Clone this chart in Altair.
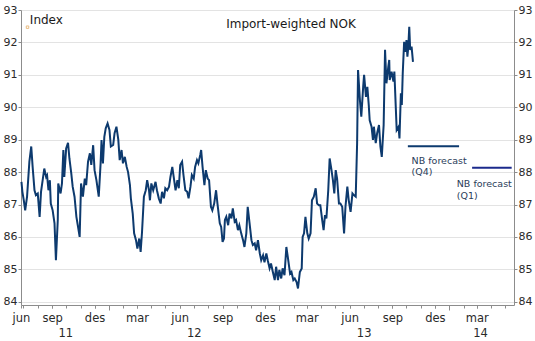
import altair as alt
import pandas as pd

FONT = "DejaVu Sans"
LINE_COLOR = "#0d3a6e"
Q1_COLOR = "#1b2a8c"
GREY = "#8c8c8c"
LABEL = "#2a2a2a"
NOTE = "#2b3d5a"

# ---- Import-weighted NOK (index) ----
dates_2011 = [
    "2011-06-27", "2011-06-29", "2011-07-02", "2011-07-05", "2011-07-09", "2011-07-14",
    "2011-07-18", "2011-07-21", "2011-07-25", "2011-07-28", "2011-08-01", "2011-08-05",
    "2011-08-08", "2011-08-12", "2011-08-15", "2011-08-19", "2011-08-21", "2011-08-24",
    "2011-08-27", "2011-08-29", "2011-09-02", "2011-09-06", "2011-09-09", "2011-09-13",
    "2011-09-14", "2011-09-19", "2011-09-22", "2011-09-25", "2011-09-27", "2011-10-01",
    "2011-10-05", "2011-10-08", "2011-10-12", "2011-10-15", "2011-10-19", "2011-10-23",
    "2011-10-26", "2011-10-30", "2011-11-02", "2011-11-06", "2011-11-10", "2011-11-13",
    "2011-11-17", "2011-11-21", "2011-11-24", "2011-11-28", "2011-12-01", "2011-12-05",
    "2011-12-10", "2011-12-14", "2011-12-16", "2011-12-19", "2011-12-22", "2011-12-25",
    "2011-12-29",
]
values_2011 = [
    87.70, 87.39, 87.13, 86.82, 87.24, 88.32,
    88.79, 88.16, 87.44, 87.29, 87.34, 86.62,
    87.39, 87.80, 88.11, 87.85, 87.90, 87.44,
    87.75, 87.03, 86.82, 86.42, 85.28, 86.52,
    87.65, 87.34, 87.65, 88.68, 87.85, 88.73,
    88.90, 88.42, 87.96, 87.55, 87.24, 86.62,
    86.36, 86.00, 87.65, 87.24, 87.80, 87.60,
    88.32, 88.58, 88.22, 88.83, 88.06, 87.75,
    87.24, 88.27, 88.99, 88.27, 89.09, 89.35,
    89.50,
]

dates_2012 = [
    "2012-01-02", "2012-01-05", "2012-01-10", "2012-01-13", "2012-01-17", "2012-01-21",
    "2012-01-24", "2012-01-28", "2012-01-31", "2012-02-04", "2012-02-08", "2012-02-11",
    "2012-02-15", "2012-02-17", "2012-02-21", "2012-02-24", "2012-02-28", "2012-03-02",
    "2012-03-06", "2012-03-09", "2012-03-12", "2012-03-16", "2012-03-20", "2012-03-23",
    "2012-03-27", "2012-03-29", "2012-04-01", "2012-04-05", "2012-04-10", "2012-04-13",
    "2012-04-17", "2012-04-21", "2012-04-24", "2012-04-28", "2012-05-01", "2012-05-05",
    "2012-05-09", "2012-05-12", "2012-05-16", "2012-05-19", "2012-05-23", "2012-05-27",
    "2012-05-30", "2012-06-02", "2012-06-06", "2012-06-09", "2012-06-13", "2012-06-17",
    "2012-06-20", "2012-06-24", "2012-06-27", "2012-07-01", "2012-07-04", "2012-07-08",
    "2012-07-11", "2012-07-15", "2012-07-17", "2012-07-20", "2012-07-24", "2012-07-27",
    "2012-07-31", "2012-08-03", "2012-08-07", "2012-08-10", "2012-08-14", "2012-08-18",
    "2012-08-21", "2012-08-26", "2012-08-29", "2012-09-01", "2012-09-04", "2012-09-06",
    "2012-09-09", "2012-09-13", "2012-09-16", "2012-09-20", "2012-09-23", "2012-09-27",
    "2012-09-30", "2012-10-04", "2012-10-07", "2012-10-11", "2012-10-15", "2012-10-18",
    "2012-10-22", "2012-10-25", "2012-10-29", "2012-11-02", "2012-11-05", "2012-11-09",
    "2012-11-12", "2012-11-16", "2012-11-20", "2012-11-23", "2012-11-27", "2012-11-30",
    "2012-12-04", "2012-12-07", "2012-12-11", "2012-12-14", "2012-12-18", "2012-12-22",
    "2012-12-25", "2012-12-29",
]
values_2012 = [
    89.30, 88.79, 88.84, 89.20, 89.40, 89.00,
    88.37, 88.68, 88.27, 88.47, 88.16, 88.00,
    87.60, 87.19, 86.72, 86.11, 85.90, 85.64,
    85.95, 85.54, 86.16, 87.24, 87.44, 87.75,
    87.44, 87.13, 87.65, 87.44, 87.70, 87.44,
    87.19, 87.03, 87.39, 87.19, 87.50, 87.44,
    87.55, 87.85, 88.16, 87.85, 87.44, 87.75,
    87.50, 88.22, 88.32, 87.91, 87.44, 87.39,
    87.19, 87.55, 87.91, 87.80, 88.16, 88.37,
    88.27, 88.53, 88.68, 88.16, 87.60, 88.06,
    87.80, 87.75, 86.93, 86.82, 87.03, 87.44,
    87.03, 86.42, 86.31, 85.85, 85.95, 86.52,
    86.62, 86.36, 86.72, 86.57, 86.88, 86.47,
    86.52, 86.21, 86.36, 86.11, 85.90, 85.69,
    86.11, 86.93, 86.42, 85.90, 85.75, 85.80,
    85.59, 85.90, 85.49, 85.28, 85.43, 85.22,
    85.49, 85.28, 85.03, 85.18, 84.92, 84.67,
    85.08, 84.67,
]

dates_2013 = [
    "2013-01-01", "2013-01-05", "2013-01-08", "2013-01-12", "2013-01-16", "2013-01-19",
    "2013-01-24", "2013-01-27", "2013-01-31", "2013-02-03", "2013-02-07", "2013-02-10",
    "2013-02-14", "2013-02-18", "2013-02-20", "2013-02-23", "2013-02-26", "2013-03-02",
    "2013-03-05", "2013-03-09", "2013-03-12", "2013-03-16", "2013-03-20", "2013-03-23",
    "2013-03-27", "2013-03-30", "2013-04-03", "2013-04-06", "2013-04-09", "2013-04-12",
    "2013-04-16", "2013-04-19", "2013-04-23", "2013-04-26", "2013-04-29", "2013-05-02",
    "2013-05-05", "2013-05-09", "2013-05-12", "2013-05-16", "2013-05-20", "2013-05-23",
    "2013-05-27", "2013-05-30", "2013-06-03", "2013-06-07", "2013-06-10", "2013-06-14",
    "2013-06-17", "2013-06-19", "2013-06-23", "2013-06-26", "2013-06-30", "2013-07-02",
    "2013-07-06", "2013-07-09", "2013-07-12", "2013-07-14", "2013-07-18", "2013-07-21",
    "2013-07-23", "2013-07-27", "2013-07-30", "2013-08-03", "2013-08-06", "2013-08-09",
    "2013-08-13", "2013-08-16", "2013-08-19", "2013-08-23", "2013-08-25", "2013-08-26",
    "2013-08-30", "2013-09-03", "2013-09-05", "2013-09-08", "2013-09-10", "2013-09-14",
    "2013-09-16", "2013-09-19", "2013-09-21", "2013-09-23", "2013-09-26", "2013-09-29",
    "2013-10-01", "2013-10-03", "2013-10-05", "2013-10-07", "2013-10-09", "2013-10-12",
    "2013-10-15",
]
values_2013 = [
    84.98, 84.72, 85.03, 84.82, 85.69, 85.39,
    84.87, 84.92, 84.67, 84.72, 84.61, 84.41,
    84.92, 85.03, 86.00, 86.11, 86.62, 86.11,
    85.95, 86.11, 87.13, 87.24, 87.50, 87.03,
    86.98, 86.98, 86.52, 86.21, 86.67, 86.57,
    87.44, 88.42, 88.06, 87.75, 87.34, 88.06,
    87.80, 87.03, 87.03, 86.93, 86.11, 86.93,
    87.55, 87.13, 86.77, 87.34, 87.29, 87.24,
    88.89, 91.15, 90.22, 89.71, 90.63, 91.00,
    90.32, 90.63, 90.07, 89.60, 89.40, 88.99,
    89.40, 88.89, 89.20, 89.45, 88.79, 88.47,
    89.45, 91.77, 90.74, 91.25, 91.46, 90.84,
    91.10, 90.79, 91.10, 90.02, 89.30, 89.40,
    89.04, 90.43, 90.07, 91.04, 92.02, 91.71,
    92.07, 91.56, 91.87, 92.48, 91.77, 91.87,
    91.40,
]

# ---- NB forecasts ----
fc_labels = ["Q4", "Q1"]
fc_start = ["2013-10-04", "2014-02-19"]
fc_end = ["2014-01-22", "2014-05-15"]
fc_value = [88.80, 88.13]

# ---- annotations ----
note_text = ["NB forecast", "(Q4)", "NB forecast", "(Q1)"]
note_date = ["2013-10-12", "2013-10-12", "2014-01-17", "2014-01-17"]
note_value = [88.35, 88.01, 87.63, 87.27]

title_text = "Import-weighted NOK"
title_date = "2013-01-26"
title_value = 92.58
index_text = "Index"
index_date = "2011-07-15"
index_value = 92.68
marker_date = "2011-07-10"
marker_value = 92.47

y_ticks = [84, 85, 86, 87, 88, 89, 90, 91, 92, 93]
month_names = ["jan", "feb", "mar", "apr", "mai", "jun", "jul", "aug", "sep", "okt", "nov", "des"]


def dt(s):
    y, m, d = map(int, s.split("-"))
    return alt.DateTime(year=y, month=m, date=d, utc=True)


series = pd.DataFrame({
    "date": dates_2011 + dates_2012 + dates_2013,
    "value": values_2011 + values_2012 + values_2013,
})
q4 = pd.DataFrame({"start": [fc_start[0]], "end": [fc_end[0]], "value": [fc_value[0]]})
q1 = pd.DataFrame({"start": [fc_start[1]], "end": [fc_end[1]], "value": [fc_value[1]]})
notes = pd.DataFrame({"date": note_date, "value": note_value, "text": note_text})
title_df = pd.DataFrame({"date": [title_date], "value": [title_value], "text": [title_text]})
index_df = pd.DataFrame({"date": [index_date], "value": [index_value], "text": [index_text]})
marker_df = pd.DataFrame({"date": [marker_date], "value": [marker_value]})

xscale = alt.Scale(type="utc", domain=[dt("2011-06-26"), dt("2014-05-20")])
yscale = alt.Scale(domain=[83.9, 93.0], nice=False, zero=False)

month_ticks = []
for yr in (2011, 2012, 2013, 2014):
    for mo in range(1, 13):
        key = f"{yr}-{mo:02d}"
        if "2011-07" <= key <= "2014-05":
            month_ticks.append(dt(key + "-01"))

quarter_labels = [dt(s) for s in [
    "2011-06-26", "2011-09-01", "2011-12-01", "2012-03-01", "2012-06-01", "2012-09-01",
    "2012-12-01", "2013-03-01", "2013-06-01", "2013-09-01", "2013-12-01", "2014-03-01"]]
year_ticks = [dt(s) for s in ["2012-01-01", "2013-01-01", "2014-01-01"]]
year_labels = [dt(s) for s in ["2011-09-29", "2012-07-01", "2013-07-01", "2014-03-08"]]

month_expr = "[" + ",".join(f"'{m}'" for m in month_names) + "][utcmonth(datum.value)]"

no_y = alt.Y("value:Q", scale=yscale, axis=None)

line = alt.Chart(series).mark_line(color=LINE_COLOR, strokeWidth=2).encode(
    x=alt.X("date:T", scale=xscale, axis=alt.Axis(
        orient="bottom", values=month_ticks, labels=False, tickSize=3, tickColor=GREY,
        domainColor=GREY, grid=False, title=None)),
    y=alt.Y("value:Q", scale=yscale, axis=alt.Axis(
        orient="left", values=y_ticks, grid=True, gridColor="#e3e3e3",
        tickSize=3, tickColor=GREY, domainColor=GREY, labelFontSize=11,
        labelColor=LABEL, labelPadding=1, labelFont=FONT, title=None)),
)

q4_line = alt.Chart(q4).mark_rule(color=LINE_COLOR, strokeWidth=2).encode(
    x=alt.X("start:T", scale=xscale, axis=alt.Axis(
        orient="bottom", values=quarter_labels, labelExpr=month_expr, tickSize=3,
        tickColor=GREY, domain=False, grid=False, labelFontSize=11.5, labelColor=LABEL,
        labelFont=FONT, labelPadding=4, labelFlush=False, labelOverlap=False,
        labelBound=False, title=None)),
    x2="end:T",
    y=alt.Y("value:Q", scale=yscale, axis=alt.Axis(
        orient="right", values=y_ticks, grid=False, tickSize=3, tickColor=GREY,
        domainColor=GREY, labelFontSize=11, labelColor=LABEL, labelPadding=1,
        labelFont=FONT, title=None)),
)

q1_line = alt.Chart(q1).mark_rule(color=Q1_COLOR, strokeWidth=2).encode(
    x=alt.X("start:T", scale=xscale, axis=alt.Axis(
        orient="bottom", values=year_ticks, labels=False, tickSize=5, tickColor=GREY,
        domain=False, grid=False, title=None)),
    x2="end:T",
    y=no_y,
)

note_layer = alt.Chart(notes).mark_text(
    align="left", baseline="middle", fontSize=9.5, font=FONT, color=NOTE
).encode(
    x=alt.X("date:T", scale=xscale, axis=alt.Axis(
        orient="bottom", values=year_labels, labelExpr="utcFormat(datum.value, '%y')",
        ticks=False, tickSize=0, domain=False, grid=False, labelFontSize=11.5,
        labelColor=LABEL, labelFont=FONT, labelPadding=22, labelFlush=False,
        labelOverlap=False, labelBound=False, title=None)),
    y=no_y,
    text="text:N",
)

title_layer = alt.Chart(title_df).mark_text(
    align="center", baseline="middle", fontSize=12, font=FONT, color="#1a1a1a"
).encode(
    x=alt.X("date:T", scale=xscale, axis=None), y=no_y, text="text:N")

index_layer = alt.Chart(index_df).mark_text(
    align="left", baseline="middle", fontSize=12, font=FONT, color="#1a1a1a"
).encode(
    x=alt.X("date:T", scale=xscale, axis=None), y=no_y, text="text:N")

marker_layer = alt.Chart(marker_df).mark_point(
    shape="square", size=6, filled=False, color="#e3a24f", strokeWidth=1
).encode(x=alt.X("date:T", scale=xscale, axis=None), y=no_y)

chart = alt.layer(
    line, q4_line, q1_line, note_layer, title_layer, index_layer, marker_layer
).resolve_axis(x="independent", y="independent").properties(
    width=493, height=295,
    padding={"left": 21, "top": 10, "right": 21, "bottom": 36},
    autosize=alt.AutoSizeParams(type="none"),
    background="white",
).configure_view(strokeWidth=0)

chart.save("out.html", embed_options={"renderer": "svg", "actions": False})
